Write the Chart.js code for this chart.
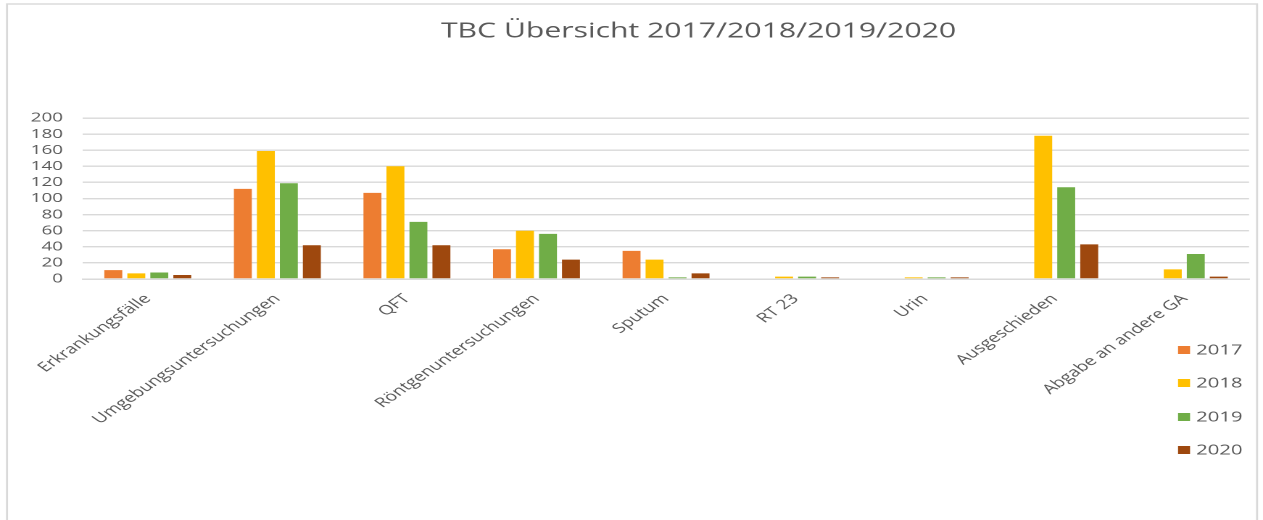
<!DOCTYPE html>
<html>
<head>
<meta charset="utf-8">
<script src="https://cdn.jsdelivr.net/npm/chart.js@4"></script>
<style>
  html, body { margin: 0; padding: 0; background: #ffffff; overflow: hidden; }
</style>
</head>
<body>
<canvas id="c" width="871" height="520" style="display:block;width:1263px;height:520px"></canvas>
<script>
const titleText = "TBC Übersicht 2017/2018/2019/2020";
const categories = ["Erkrankungsfälle", "Umgebungsuntersuchungen", "QFT", "Röntgenuntersuchungen", "Sputum", "RT 23", "Urin", "Ausgeschieden", "Abgabe an andere GA"];
const years = ["2017", "2018", "2019", "2020"];
const values2017 = [11, 112, 107, 37, 35, null, null, null, null];
const values2018 = [7, 159, 140, 60, 24, 3, 1, 178, 12];
const values2019 = [8, 119, 71, 56, 2, 3, 1, 114, 31];
const values2020 = [5, 42, 42, 24, 7, 1, 1, 43, 3];
const yTicks = [0, 20, 40, 60, 80, 100, 120, 140, 160, 180, 200];

const colors = ["#ED7D31", "#FFC000", "#70AD47", "#9E480E"];
const S = 1.45; // horizontal stretch of the reference picture
const TXT = "#595959";
const FONT = "'Open Sans', 'DejaVu Sans', sans-serif";

const framePlugin = {
  id: 'frame',
  beforeDraw(chart) {
    const ctx = chart.ctx;
    ctx.save();
    ctx.fillStyle = '#ffffff';
    ctx.fillRect(0, 0, chart.width, chart.height);
    ctx.strokeStyle = '#d9d9d9';
    ctx.lineWidth = 1.4;
    ctx.strokeRect(7 / S, 4, (1257 - 7) / S, 560);
    ctx.restore();
  },
  afterDraw(chart) {
    const ctx = chart.ctx;
    ctx.save();
    // title
    ctx.fillStyle = TXT;
    ctx.font = "20.8px " + FONT;
    ctx.textAlign = 'center';
    ctx.textBaseline = 'alphabetic';
    ctx.fillText(titleText, 698.5 / S, 37.5);
    // legend
    const rows = [350, 383, 417, 450];
    ctx.font = "14px " + FONT;
    ctx.textAlign = 'left';
    ctx.textBaseline = 'middle';
    chart.data.datasets.forEach((ds, i) => {
      const y = rows[i];
      ctx.fillStyle = ds.backgroundColor;
      ctx.fillRect(1178 / S, y - 4, 12 / S, 8);
      ctx.fillStyle = TXT;
      ctx.fillText(ds.label, 1196 / S, y + 0.5);
    });
    ctx.restore();
  }
};

const datasets = [values2017, values2018, values2019, values2020].map((vals, i) => ({
  label: years[i],
  data: vals,
  backgroundColor: colors[i],
  borderWidth: 0,
  minBarLength: 1.6,
  categoryPercentage: 0.71,
  barPercentage: 0.78
}));

new Chart(document.getElementById('c'), {
  type: 'bar',
  data: { labels: categories, datasets },
  options: {
    responsive: false,
    devicePixelRatio: 2,
    animation: false,
    layout: { padding: { left: 0, right: 871 - 1249 / S, top: 118, bottom: 0 } },
    plugins: {
      legend: { display: false },
      title: { display: false },
      tooltip: { enabled: false }
    },
    scales: {
      x: {
        grid: { display: false, drawTicks: false },
        border: { display: true, color: '#d9d9d9', width: 1.4 },
        ticks: {
          color: TXT,
          font: { family: FONT, size: 13.3 },
          minRotation: 45,
          maxRotation: 45,
          autoSkip: false,
          padding: 12
        },
        afterFit(scale) { scale.height = 520 - 279; }
      },
      y: {
        min: 0,
        max: 200,
        afterBuildTicks(scale) { scale.ticks = yTicks.map(v => ({ value: v })); },
        grid: { color: '#d9d9d9', lineWidth: 1.4, drawTicks: false },
        border: { display: false },
        ticks: {
          color: TXT,
          font: { family: FONT, size: 13 },
          autoSkip: false,
          padding: 20 / S
        },
        afterFit(scale) { scale.width = 83 / S; }
      }
    }
  },
  plugins: [framePlugin]
});
</script>
</body>
</html>
